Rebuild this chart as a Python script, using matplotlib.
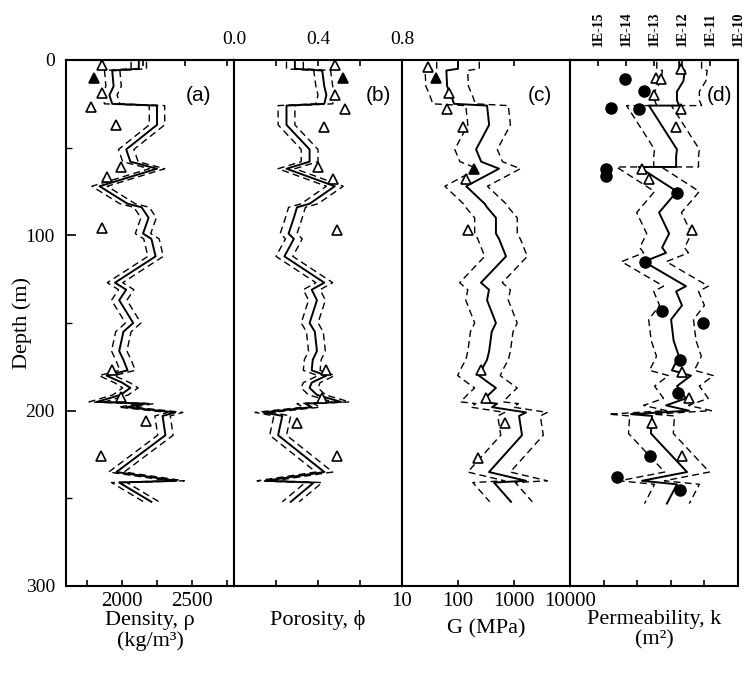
import numpy as np
import matplotlib
matplotlib.use('Agg')
import matplotlib.pyplot as plt
from matplotlib.ticker import NullLocator

plt.rcParams['font.family'] = ['Liberation Serif', 'DejaVu Serif']
plt.rcParams['font.size'] = 15

# model profiles for panels (a)-(c), depth in m
depth_abc = [1, 5, 6, 15, 20, 25, 26, 37, 51, 58, 62, 72, 82, 84, 90, 99, 102, 112, 127, 131,
             137, 150, 155, 166, 171, 177, 180, 184, 187, 191, 195, 196, 198, 201, 203, 214, 235, 240, 241, 252]
density = [2120, 2120, 1930, 1940, 1910, 1930, 2250, 2250, 2030, 2060, 2250, 1840, 2040, 2140, 2190, 2150, 2210, 2240, 1950, 2030,
           1980, 2080, 2010, 1980, 2010, 2040, 1890, 2000, 2060, 1990, 1820, 2170, 2030, 2380, 2290, 2310, 1960, 2390, 1980, 2210]
porosity = [0.29, 0.29, 0.42, 0.43, 0.44, 0.43, 0.25, 0.25, 0.36, 0.36, 0.25, 0.48, 0.36, 0.30, 0.285, 0.26, 0.285, 0.24, 0.43, 0.37,
            0.395, 0.36, 0.385, 0.395, 0.375, 0.37, 0.44, 0.37, 0.36, 0.395, 0.51, 0.34, 0.37, 0.14, 0.23, 0.21, 0.43, 0.15, 0.38, 0.27]
shear_mod = [100, 100, 62, 64, 75, 85, 330, 360, 210, 260, 540, 140, 300, 330, 476, 476, 540, 720, 257, 358,
             330, 476, 400, 360, 330, 260, 237, 350, 476, 350, 268, 500, 405, 1640, 1230, 1390, 358, 1640, 440, 885]

# permeability profile (log10 of m2)
depth_d = [1, 5, 6, 12, 18, 23, 26, 26, 51, 55, 61, 61, 75, 87, 99, 107, 110, 115, 129, 132,
           140, 148, 160, 169, 177, 180, 186, 193, 197, 200, 202, 203, 213, 235, 240, 242, 253]
perm_log = [-12.1, -12.1, -11.9, -11.95, -12.18, -12.18, -12.1, -13.18, -12.18, -12.21, -12.21, -13.54, -12.18, -12.82, -12.46,
            -12.71, -12.57, -13.36, -11.86, -12.21, -12.0, -12.39, -12.3, -12.11, -12.36, -11.68, -12.18, -11.86, -12.57,
            -11.75, -13.82, -13.07, -13.11, -11.82, -13.43, -12.18, -12.54]

# spread of the dashed bounds
density_spread = 55
porosity_spread = 0.04
shear_spread_dec = 0.38
perm_spread_dec = 0.8

# measurements (open triangles)
rho_tri_depth = [3, 19, 27, 37, 61, 67, 96, 177, 192, 206, 226]
rho_tri = [1860, 1860, 1780, 1960, 1990, 1890, 1860, 1930, 1990, 2170, 1850]
phi_tri_depth = [3, 20, 28, 38, 61, 68, 97, 177, 193, 207, 226]
phi_tri = [0.48, 0.48, 0.53, 0.43, 0.40, 0.47, 0.49, 0.44, 0.42, 0.30, 0.49]
g_tri_depth = [4, 19, 28, 38, 68, 97, 177, 193, 207, 227]
g_tri = [29, 69, 64, 123, 139, 150, 257, 316, 690, 227]
k_tri_depth = [5, 10, 11, 20, 28, 38, 62, 68, 97, 178, 193, 207, 226]
k_tri_log = [-12.04, -12.93, -12.75, -13.0, -12.04, -12.21, -13.43, -13.18, -11.64, -12.0, -11.75, -13.07, -12.0]

# filled triangles
rho_fill_depth = [10]
rho_fill = [1800]
phi_fill_depth = [10]
phi_fill = [0.52]
g_fill_depth = [10, 62]
g_fill = [40, 194]

# filled circles in (d)
k_dot_depth = [11, 17.5, 27.5, 28, 62, 66, 76, 115, 143, 150, 171, 190, 226, 238, 245]
k_dot_log = [-14.04, -13.36, -14.54, -13.54, -14.71, -14.71, -12.18, -13.32, -12.71, -11.25, -12.07, -12.14,
             -13.14, -14.32, -12.07]

perm_top_ticks = [1e-15, 1e-14, 1e-13, 1e-12, 1e-11, 1e-10]
perm_top_labels = ['1E-15', '1E-14', '1E-13', '1E-12', '1E-11', '1E-10']


def draw_profile(ax, depth, mean, lo, hi):
    ax.plot(mean, depth, color='black', lw=1.4)
    ax.plot(lo, depth, color='black', lw=1.0, dashes=(5, 3))
    ax.plot(hi, depth, color='black', lw=1.0, dashes=(5, 3))


def draw_tri(ax, vals, depth, filled=False):
    ax.plot(vals, depth, ls='none', marker='^', ms=7, mew=1.2, mec='black',
            mfc='black' if filled else 'white')


fig, axes = plt.subplots(1, 4, figsize=(7.47, 6.79), dpi=100, sharey=True)
fig.subplots_adjust(left=66 / 747, right=738 / 747, bottom=1 - 586 / 679, top=1 - 60 / 679, wspace=0)

for ax in axes:
    ax.set_ylim(300, 0)
    for sp in ax.spines.values():
        sp.set_linewidth(1.5)
    ax.tick_params(axis='x', which='both', direction='in', length=4, width=1.2, top=True, pad=4)
    ax.tick_params(axis='y', which='both', left=False, right=False)

ax = axes[0]
ax.set_yticks([0, 100, 200, 300])
ax.set_yticks([50, 150, 250], minor=True)
ax.tick_params(axis='y', which='major', left=True, direction='in', length=7, width=1.2, pad=8, labelsize=14)
ax.tick_params(axis='y', which='minor', left=True, direction='in', length=4, width=1.0)
ax.set_ylabel('Depth (m)', fontsize=16)
ax.yaxis.set_label_coords(-0.2, 0.5)

# (a) density
rho = np.array(density)
draw_profile(ax, depth_abc, rho, rho - density_spread, rho + density_spread)
draw_tri(ax, rho_tri, rho_tri_depth)
draw_tri(ax, rho_fill, rho_fill_depth, filled=True)
ax.set_xlim(1600, 2800)
ax.set_xticks([1750, 2000, 2250, 2500, 2750], labels=['', '2000', '', '2500', ''])
ax.tick_params(axis='x', top=False)
sec = ax.secondary_xaxis('top')
sec.set_xticks([1850, 2150, 2450, 2750], labels=['', '', '', ''])
sec.tick_params(direction='in', length=4, width=1.2)
sec.spines['top'].set_linewidth(1.5)
ax.set_xlabel('Density, ρ\n(kg/m³)', fontsize=16, linespacing=1.1)
ax.xaxis.set_label_coords(0.5, -0.048)

# (b) porosity
ax = axes[1]
phi = np.array(porosity)
draw_profile(ax, depth_abc, phi, phi - porosity_spread, phi + porosity_spread)
draw_tri(ax, phi_tri, phi_tri_depth)
draw_tri(ax, phi_fill, phi_fill_depth, filled=True)
ax.set_xlim(0, 0.8)
ax.set_xticks([0, 0.2, 0.4, 0.6, 0.8], labels=['0.0', '', '0.4', '', '0.8'])
ax.tick_params(axis='x', labelbottom=False, labeltop=True, pad=9, labelsize=14)
ax.set_xlabel('Porosity, ϕ', fontsize=16)
ax.xaxis.set_label_coords(0.5, -0.046)

# (c) shear modulus
ax = axes[2]
g = np.array(shear_mod, dtype=float)
gf = 10 ** shear_spread_dec
draw_profile(ax, depth_abc, g, g / gf, g * gf)
draw_tri(ax, g_tri, g_tri_depth)
draw_tri(ax, g_fill, g_fill_depth, filled=True)
ax.set_xscale('log')
ax.set_xlim(10, 10000)
ax.set_xticks([10, 100, 1000, 10000], labels=['10', '100', '1000', '10000'])
ax.xaxis.set_minor_locator(NullLocator())
ax.set_xlabel('G (MPa)', fontsize=16)
ax.xaxis.set_label_coords(0.5, -0.064)

# (d) permeability
ax = axes[3]
k = 10.0 ** np.array(perm_log)
kf = 10 ** perm_spread_dec
draw_profile(ax, depth_d, k, k / kf, k * kf)
draw_tri(ax, 10.0 ** np.array(k_tri_log), k_tri_depth)
ax.plot(10.0 ** np.array(k_dot_log), k_dot_depth, ls='none', marker='o', ms=8, color='black')
ax.set_xscale('log')
ax.set_xlim(1e-16, 1e-10)
ax.set_xticks([10 ** -14.8, 10 ** -13.6, 10 ** -12.4, 10 ** -11.2], labels=['', '', '', ''])
ax.xaxis.set_minor_locator(NullLocator())
ax.tick_params(axis='x', top=False)
sec = ax.secondary_xaxis('top')
sec.set_xscale('log')
sec.set_xticks(perm_top_ticks, labels=perm_top_labels)
sec.xaxis.set_minor_locator(NullLocator())
sec.tick_params(direction='in', length=4, width=1.2, pad=10)
for lab in sec.get_xticklabels():
    lab.set_rotation(90)
    lab.set_fontsize(10)
    lab.set_fontweight('bold')
sec.spines['top'].set_linewidth(1.5)
ax.set_xlabel('Permeability, k\n(m²)', fontsize=16, linespacing=1.1)
ax.xaxis.set_label_coords(0.5, -0.046)

for ax, tag, xpos in zip(axes, ['(a)', '(b)', '(c)', '(d)'], [0.79, 0.86, 0.82, 0.887]):
    ax.text(xpos, 0.933, tag, transform=ax.transAxes, ha='center', va='center',
            fontsize=15, family=['Liberation Sans', 'DejaVu Sans'])

fig.savefig('out.png', dpi=100)
